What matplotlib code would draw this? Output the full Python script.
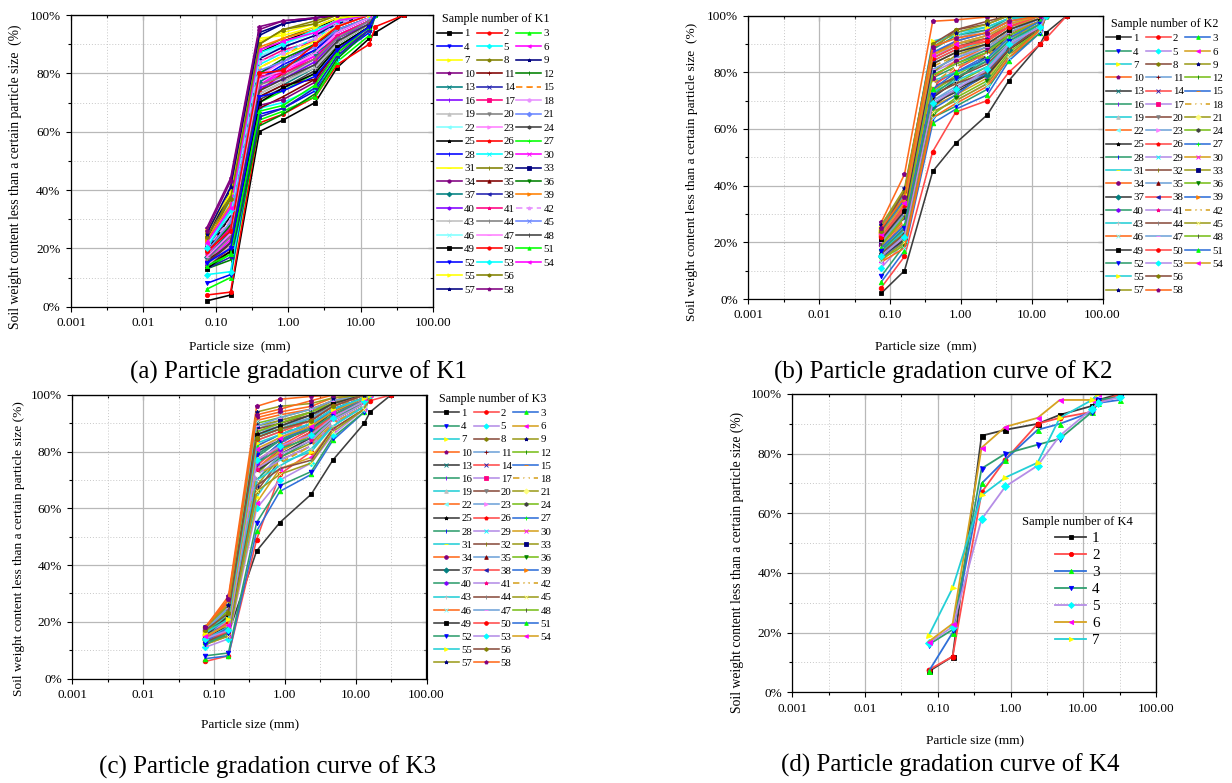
import matplotlib
matplotlib.use('Agg')
import matplotlib.pyplot as plt
from matplotlib.lines import Line2D
from matplotlib.ticker import FixedLocator, NullFormatter

plt.rcParams['font.family'] = ['Liberation Serif', 'DejaVu Serif']

W, H = 1232, 783

# sieve openings (mm)
SIEVE_K1 = [0.075, 0.16, 0.4, 0.85, 2.36, 4.75, 13.2, 16, 40]
SIEVE = [0.075, 0.16, 0.4, 0.85, 2.36, 4.75, 13.2, 16, 31.5]

# passing percentage for each sample, K1
K1 = [
    [2, 4, 60, 64, 70, 82, 92, 94, 100],
    [4, 5, 63, 66, 72, 83, 90, 96, 100],
    [6, 10, 64, 67, 72, 84, 93, 100],
    [8, 11, 66, 68, 74, 86, 94, 100],
    [11, 12, 68, 70, 75, 85, 95, 100],
    [16, 24, 76, 80, 86, 93, 98, 100],
    [25, 39, 91, 94, 97, 100],
    [24, 38, 90, 95, 98, 100],
    [23, 40, 94, 97, 99, 100],
    [27, 44, 96, 98, 99, 100],
    [14, 19, 68, 72, 78, 88, 96, 100],
    [13, 16, 62, 66, 73, 85, 95, 100],
    [15, 22, 72, 76, 82, 90, 97, 100],
    [18, 28, 78, 82, 88, 95, 99, 100],
    [20, 30, 82, 86, 92, 97, 100],
    [19, 27, 80, 84, 90, 96, 100],
    [21, 33, 84, 88, 91, 96, 100],
    [17, 25, 77, 81, 87, 94, 99, 100],
    [16, 23, 75, 79, 84, 92, 98, 100],
    [15, 21, 73, 77, 83, 91, 97, 100],
    [20, 35, 86, 89, 93, 98, 100],
    [22, 36, 85, 90, 94, 98, 100],
    [18, 26, 79, 84, 89, 95, 99, 100],
    [14, 20, 71, 75, 81, 90, 97, 100],
    [19, 31, 87, 91, 95, 99, 100],
    [17, 24, 74, 80, 85, 93, 98, 100],
    [13, 18, 70, 74, 80, 89, 96, 100],
    [16, 25, 78, 83, 88, 94, 99, 100],
    [21, 34, 83, 87, 92, 97, 100],
    [15, 23, 76, 81, 86, 93, 98, 100],
    [18, 29, 82, 86, 91, 96, 100],
    [22, 37, 88, 92, 96, 99, 100],
    [20, 32, 85, 89, 93, 97, 100],
    [14, 22, 69, 71, 77, 87, 95, 100],
    [16, 21, 72, 76, 78, 88, 96, 100],
    [19, 28, 80, 85, 90, 95, 99, 100],
    [17, 26, 77, 82, 87, 92, 98, 100],
    [13, 17, 65, 68, 75, 86, 95, 100],
    [23, 35, 89, 92, 95, 98, 100],
    [15, 20, 75, 78, 84, 92, 97, 100],
    [18, 27, 79, 80, 85, 93, 98, 100],
    [20, 30, 84, 87, 92, 97, 100],
    [14, 21, 73, 77, 82, 90, 97, 100],
    [16, 24, 76, 79, 85, 92, 98, 100],
    [19, 29, 81, 84, 89, 95, 99, 100],
    [21, 32, 86, 90, 94, 98, 100],
    [17, 25, 78, 81, 87, 94, 99, 100],
    [15, 22, 74, 78, 83, 91, 97, 100],
    [13, 19, 70, 75, 80, 89, 96, 100],
    [19, 26, 80, 81, 90, 96, 100],
    [14, 18, 67, 69, 76, 87, 96, 100],
    [15, 20, 72, 74, 79, 88, 96, 100],
    [20, 33, 87, 90, 95, 98, 100],
    [22, 34, 88, 91, 94, 98, 100],
    [26, 39, 92, 93, 96, 99, 100],
    [24, 37, 90, 95, 97, 100],
    [25, 41, 93, 97, 99, 100],
    [26, 43, 95, 98, 99, 100],
]

K2 = [
    [2, 10, 45, 55, 65, 77, 90, 94, 100],
    [4, 15, 52, 66, 70, 80, 90, 92, 100],
    [6, 17, 62, 67, 72, 84, 94, 100],
    [8, 19, 64, 68, 74, 85, 94, 100],
    [11, 20, 66, 70, 76, 86, 95, 100],
    [13, 22, 68, 72, 78, 88, 95, 100],
    [24, 37, 90, 94, 96, 99, 100],
    [25, 38, 88, 95, 97, 100],
    [26, 38, 86, 90, 92, 97, 100],
    [27, 44, 98, 98.5, 99.5, 100],
    [15, 22, 70, 74, 80, 89, 96, 100],
    [16, 24, 72, 76, 82, 90, 96, 100],
    [14, 21, 69, 73, 79, 88, 95, 100],
    [17, 25, 74, 78, 84, 91, 97, 100],
    [18, 26, 76, 80, 86, 92, 97, 100],
    [19, 28, 78, 82, 87, 93, 98, 100],
    [20, 29, 80, 84, 88, 94, 98, 100],
    [21, 30, 82, 86, 89, 95, 99, 100],
    [22, 32, 84, 88, 91, 96, 99, 100],
    [23, 33, 85, 89, 92, 96, 100],
    [24, 35, 87, 90, 93, 97, 100],
    [21, 34, 86, 91, 94, 98, 100],
    [23, 36, 89, 92, 95, 98, 100],
    [16, 23, 73, 79, 85, 92, 97, 100],
    [17, 24, 71, 77, 86, 93, 98, 100],
    [18, 27, 75, 81, 87, 94, 98, 100],
    [15, 20, 67, 72, 80, 89, 96, 100],
    [19, 29, 79, 83, 88, 93, 98, 100],
    [20, 31, 81, 85, 90, 95, 99, 100],
    [22, 33, 83, 87, 91, 96, 99, 100],
    [18, 26, 77, 80, 84, 91, 97, 100],
    [17, 25, 75, 78, 83, 90, 96, 100],
    [20, 30, 80, 86, 90, 95, 99, 100],
    [19, 28, 78, 84, 89, 94, 98, 100],
    [16, 22, 70, 75, 81, 89, 96, 100],
    [14, 19, 65, 71, 77, 87, 95, 100],
    [15, 21, 68, 74, 79, 88, 96, 100],
    [21, 32, 84, 88, 92, 96, 100],
    [23, 35, 87, 91, 94, 98, 100],
    [24, 36, 88, 93, 95, 99, 100],
    [22, 34, 85, 90, 93, 97, 100],
    [18, 27, 76, 82, 86, 92, 97, 100],
    [17, 24, 73, 77, 82, 90, 97, 100],
    [16, 23, 72, 76, 80, 88, 96, 100],
    [14, 20, 66, 70, 76, 86, 95, 100],
    [13, 18, 64, 69, 75, 85, 95, 100],
    [20, 30, 81, 85, 89, 94, 99, 100],
    [19, 29, 79, 83, 87, 93, 98, 100],
    [21, 31, 83, 87, 90, 95, 99, 100],
    [22, 33, 85, 89, 91, 96, 100],
    [18, 26, 74, 80, 85, 92, 98, 100],
    [17, 25, 72, 78, 84, 91, 97, 100],
    [15, 22, 69, 74, 81, 90, 96, 100],
    [23, 34, 86, 90, 93, 97, 100],
    [25, 37, 91, 93, 96, 99, 100],
    [24, 38, 90, 95, 98, 100],
    [26, 39, 89, 94, 97, 100],
    [25, 36, 89, 92, 94, 98, 100],
]

K3 = [
    [14, 16, 45, 55, 65, 77, 90, 94, 100],
    [6, 8, 49, 72, 80, 90, 96, 98, 100],
    [7, 8, 52, 66, 72, 84, 94, 100],
    [8, 9, 55, 68, 73, 85, 94, 100],
    [11, 14, 60, 70, 76, 86, 95, 100],
    [12, 15, 62, 74, 78, 88, 95, 100],
    [13, 16, 64, 76, 80, 89, 96, 100],
    [14, 17, 66, 77, 82, 90, 96, 100],
    [15, 18, 68, 78, 83, 91, 97, 100],
    [18, 29, 96, 98.5, 99.5, 100],
    [16, 20, 70, 79, 85, 92, 97, 100],
    [17, 22, 72, 80, 86, 93, 98, 100],
    [13, 15, 73, 81, 87, 93, 98, 100],
    [14, 16, 75, 82, 88, 94, 98, 100],
    [15, 18, 76, 83, 89, 94, 99, 100],
    [16, 19, 78, 84, 90, 95, 99, 100],
    [17, 21, 80, 85, 90, 95, 99, 100],
    [15, 20, 82, 86, 91, 96, 99, 100],
    [16, 22, 84, 87, 92, 96, 100],
    [17, 23, 85, 88, 92, 97, 100],
    [18, 25, 86, 89, 93, 97, 100],
    [16, 24, 87, 90, 94, 98, 100],
    [17, 26, 88, 91, 94, 98, 100],
    [18, 27, 90, 92, 95, 98, 100],
    [14, 17, 73, 79, 85, 92, 97, 100],
    [15, 16, 74, 81, 87, 93, 98, 100],
    [16, 19, 76, 83, 89, 94, 98, 100],
    [13, 15, 70, 78, 84, 91, 97, 100],
    [14, 18, 72, 77, 82, 90, 96, 100],
    [15, 21, 74, 80, 86, 92, 97, 100],
    [16, 23, 86, 88, 92, 96, 100],
    [17, 24, 88, 90, 93, 97, 100],
    [18, 26, 89, 91, 94, 98, 100],
    [17, 28, 92, 94, 96, 99, 100],
    [16, 25, 87, 89, 92, 96, 100],
    [15, 22, 85, 88, 91, 96, 100],
    [14, 19, 80, 84, 88, 94, 99, 100],
    [13, 17, 77, 82, 86, 93, 98, 100],
    [15, 20, 79, 84, 89, 95, 99, 100],
    [17, 21, 76, 81, 85, 92, 97, 100],
    [16, 20, 74, 79, 84, 91, 97, 100],
    [15, 19, 72, 76, 82, 90, 96, 100],
    [14, 18, 70, 75, 81, 89, 96, 100],
    [13, 16, 68, 74, 77, 88, 95, 100],
    [12, 15, 66, 72, 76, 87, 95, 100],
    [18, 27, 91, 93, 95, 98, 100],
    [17, 25, 89, 92, 95, 98, 100],
    [16, 24, 87, 90, 94, 97, 100],
    [15, 22, 86, 89, 93, 97, 100],
    [14, 20, 84, 87, 91, 96, 100],
    [13, 18, 82, 86, 90, 95, 99, 100],
    [12, 16, 79, 84, 88, 93, 98, 100],
    [14, 17, 77, 82, 86, 92, 98, 100],
    [15, 19, 81, 85, 89, 94, 99, 100],
    [16, 21, 83, 86, 90, 95, 99, 100],
    [17, 23, 85, 88, 91, 96, 100],
    [18, 26, 94, 96, 97, 99, 100],
    [18, 28, 93, 95, 98, 100],
]

K4 = [
    [7, 12, 86, 88, 90, 93, 96, 98, 100],
    [7.5, 12, 67, 78, 90, 92, 94, 97, 100],
    [7, 20, 70, 78, 88, 90, 94, 97, 98],
    [16, 21, 75, 80, 83, 85, 94, 98, 99],
    [16.5, 22, 58, 69, 76, 86, 95, 97, 99],
    [17, 23, 82, 89, 92, 98, 98, 100],
    [19, 35, 66, 72, 77, 92, 98, 100],
]

XTICKS = [0.001, 0.01, 0.1, 1, 10, 100]
XTICK_LABELS = ['0.001', '0.01', '0.10', '1.00', '10.00', '100.00']
XMINOR = [0.00316, 0.0316, 0.316, 3.16, 31.6]
YTICKS = [0, 20, 40, 60, 80, 100]
YTICK_LABELS = ['0%', '20%', '40%', '60%', '80%', '100%']
YMINOR = [10, 30, 50, 70, 90]

# Origin-style colour cycles
CLASSIC = ['#000000', '#FF0000', '#00FF00', '#0000FF', '#00FFFF', '#FF00FF',
           '#FFFF00', '#808000', '#000080', '#800080', '#800000', '#008000',
           '#008080', '#2020B0', '#FF8000', '#8000FF', '#FF0080', '#FFFFFF',
           '#C0C0C0', '#808080', '#FFFF80', '#80FFFF', '#FF80FF', '#404040']
K1_COLS = list(CLASSIC)
K1_COLS[17] = '#E890FF'
K1_COLS[20] = '#6A86FF'
BRIGHT = ['#3C3C3C', '#FF4B4B', '#2F6FD9', '#2F9E6E', '#B58DE6', '#D6A221',
          '#24CFD6', '#8A4E3E', '#9C9C1E', '#FF6A1C', '#6FA3D9', '#79BF1B']
MARKS = ['s', 'o', '^', 'v', 'D', '<', '>', 'h', '*', 'p', '+', '|', 'x', 'x', '_', '|']


def px_box(l, t, r, b):
    return [l / W, 1 - b / H, (r - l) / W, (b - t) / H]


def draw_curves(ax, sieve, curves, line_cols, mark_cols, dashed, lw=1.15, ms=3.0):
    for i, vals in enumerate(curves):
        n = i + 1
        ls = (0, (4, 2.5)) if n in dashed else '-'
        mc = mark_cols[i % len(mark_cols)]
        ax.plot(sieve[:len(vals)], vals, color=line_cols[i % len(line_cols)],
                lw=lw, ls=ls, marker=MARKS[i % len(MARKS)], ms=ms,
                mfc=mc, mec=mc, mew=0.6, label=str(n))


def style_axes(ax):
    ax.set_xscale('log')
    ax.set_xlim(0.001, 100)
    ax.set_ylim(0, 100)
    ax.xaxis.set_major_locator(FixedLocator(XTICKS))
    ax.xaxis.set_minor_locator(FixedLocator(XMINOR))
    ax.xaxis.set_minor_formatter(NullFormatter())
    ax.set_xticklabels(XTICK_LABELS)
    ax.yaxis.set_major_locator(FixedLocator(YTICKS))
    ax.yaxis.set_minor_locator(FixedLocator(YMINOR))
    ax.set_yticklabels(YTICK_LABELS)
    ax.grid(which='major', color='#b8b8b8', lw=0.9)
    ax.grid(which='minor', color='#c8c8c8', lw=0.7, ls=(0, (1, 2)))
    ax.set_axisbelow(True)
    ax.tick_params(which='both', direction='out', width=0.8, labelsize=9.5)
    ax.tick_params(which='major', length=3.5, pad=4)
    ax.tick_params(which='minor', length=2)
    for s in ax.spines.values():
        s.set_linewidth(0.9)
    # inward ticks on the top and right spines
    top = ax.secondary_xaxis('top')
    top.xaxis.set_major_locator(FixedLocator(XTICKS))
    top.xaxis.set_minor_locator(FixedLocator(XMINOR))
    top.xaxis.set_major_formatter(NullFormatter())
    top.xaxis.set_minor_formatter(NullFormatter())
    top.tick_params(which='both', direction='in', width=0.8)
    top.tick_params(which='major', length=3.5)
    top.tick_params(which='minor', length=2)
    right = ax.secondary_yaxis('right')
    right.yaxis.set_major_locator(FixedLocator(YTICKS))
    right.yaxis.set_minor_locator(FixedLocator(YMINOR))
    right.yaxis.set_major_formatter(NullFormatter())
    right.yaxis.set_minor_formatter(NullFormatter())
    right.tick_params(which='both', direction='in', width=0.8)
    right.tick_params(which='major', length=3.5)
    right.tick_params(which='minor', length=2)


def three_col_legend(ax, title, x, y, spacing):
    handles, labels = ax.get_legend_handles_labels()
    cols = [[], [], []]
    for i, hl in enumerate(zip(handles, labels)):
        if i < 54:
            cols[i % 3].append(hl)
        else:
            cols[(i - 54) % 2].append(hl)
    blank = Line2D([], [], ls='none')
    while len(cols[2]) < len(cols[0]):
        cols[2].append((blank, ''))
    ordered = cols[0] + cols[1] + cols[2]
    leg = ax.legend([h for h, _ in ordered], [l for _, l in ordered], ncol=3,
                    loc='upper left', bbox_to_anchor=(x / W, 1 - y / H),
                    bbox_transform=fig.transFigure, frameon=False,
                    fontsize=7.8, title=title, title_fontsize=8.7,
                    handlelength=2.3, handletextpad=0.2, columnspacing=0.15,
                    labelspacing=spacing, borderpad=0, borderaxespad=0,
                    markerscale=0.8)
    return leg


fig = plt.figure(figsize=(W / 100, H / 100), dpi=100)

ax1 = fig.add_axes(px_box(71, 15, 433, 306.7))
ax2 = fig.add_axes(px_box(748.4, 15.6, 1102.5, 299))
ax3 = fig.add_axes(px_box(72.3, 395, 426.5, 678.5))
ax4 = fig.add_axes(px_box(792.3, 394, 1156, 692.3))

for ax in (ax1, ax2, ax3, ax4):
    style_axes(ax)

draw_curves(ax1, SIEVE_K1, K1, K1_COLS, K1_COLS, dashed={15, 42})
draw_curves(ax2, SIEVE, K2, BRIGHT, CLASSIC, dashed={18, 42}, ms=3.3)
draw_curves(ax3, SIEVE, K3, BRIGHT, CLASSIC, dashed={18, 42}, ms=3.3)
draw_curves(ax4, SIEVE, K4, BRIGHT, CLASSIC, dashed=set(), lw=1.3, ms=3.6)

three_col_legend(ax1, 'Sample number of K1', 437, 13, 0.36)
three_col_legend(ax2, 'Sample number of K2', 1106, 18, 0.34)
three_col_legend(ax3, 'Sample number of K3', 434, 393, 0.33)
ax4.legend(loc='upper left', bbox_to_anchor=(1022 / W, 1 - 516 / H),
           bbox_transform=fig.transFigure, frameon=False, fontsize=11,
           title='Sample number of K4', title_fontsize=9,
           handlelength=2.0, handletextpad=0.4, labelspacing=0.22,
           borderpad=0, borderaxespad=0, markerscale=0.85)

ylab2 = 'Soil weight content less than a certain particle size  (%)'
ylab1 = 'Soil weight content less than a certain particle size (%)'
fig.text(15 / W, 1 - 177 / H, ylab2, rotation=90, ha='center', va='center', fontsize=9.8)
fig.text(692 / W, 1 - 172 / H, ylab2, rotation=90, ha='center', va='center', fontsize=9.6)
fig.text(19 / W, 1 - 549 / H, ylab1, rotation=90, ha='center', va='center', fontsize=9.6)
fig.text(737 / W, 1 - 562 / H, ylab1, rotation=90, ha='center', va='center', fontsize=9.8)

fig.text(240 / W, 1 - 346 / H, 'Particle size  (mm)', ha='center', va='center', fontsize=9.6)
fig.text(926 / W, 1 - 346 / H, 'Particle size  (mm)', ha='center', va='center', fontsize=9.6)
fig.text(250 / W, 1 - 724 / H, 'Particle size (mm)', ha='center', va='center', fontsize=9.6)
fig.text(975 / W, 1 - 740 / H, 'Particle size (mm)', ha='center', va='center', fontsize=9.6)

fig.text(298 / W, 1 - 372 / H, '(a) Particle gradation curve of K1', ha='center', va='center', fontsize=18)
fig.text(943 / W, 1 - 372 / H, '(b) Particle gradation curve of K2', ha='center', va='center', fontsize=18)
fig.text(268 / W, 1 - 767 / H, '(c) Particle gradation curve of K3', ha='center', va='center', fontsize=18)
fig.text(950 / W, 1 - 765 / H, '(d) Particle gradation curve of K4', ha='center', va='center', fontsize=18)

fig.savefig('out.png', dpi=100)
